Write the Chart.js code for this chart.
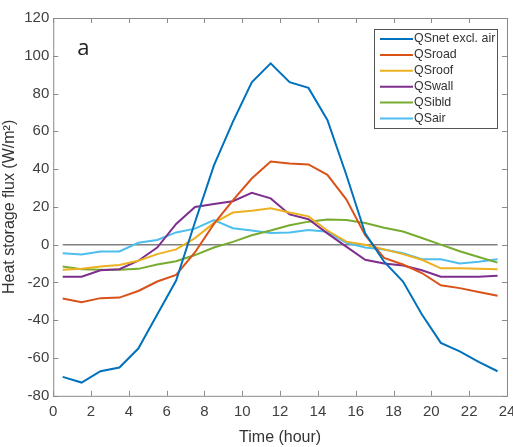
<!DOCTYPE html>
<html>
<head>
<meta charset="utf-8">
<script src="https://cdn.jsdelivr.net/npm/chart.js@4"></script>
<style>
  html, body { margin: 0; padding: 0; background: #fff; }
  #wrap { width: 513px; height: 447px; }
</style>
</head>
<body>
<div id="wrap"><canvas id="fluxChart"></canvas></div>
<script>
// Heures (milieu de chaque pas horaire)
const hours = [0.5, 1.5, 2.5, 3.5, 4.5, 5.5, 6.5, 7.5, 8.5, 9.5, 10.5, 11.5,
               12.5, 13.5, 14.5, 15.5, 16.5, 17.5, 18.5, 19.5, 20.5, 21.5, 22.5, 23.5];

const seriesNames = ['QSnet excl. air', 'QSroad', 'QSroof', 'QSwall', 'QSibld', 'QSair'];

const qsNet   = [-70, -73, -67, -65, -55, -37, -19, 12, 42, 65, 86, 96,
                 86, 83, 66, 37, 6, -9, -19.5, -37, -52, -56.5, -62, -67];
const qsRoad  = [-28.5, -30.5, -28.3, -28, -24.5, -19.5, -16, -4, 11, 23.5, 35, 44,
                 43, 42.5, 37, 24, 5, -7, -10.5, -15, -21.5, -23, -25, -27];
const qsRoof  = [-13.3, -12.8, -11.5, -10.7, -8.5, -5, -2.5, 3.5, 11.5, 17, 18, 19.3,
                 17, 15, 7.5, 1.6, 0, -2.5, -5, -8, -12.5, -12.5, -12.8, -13];
const qsWall  = [-17, -17, -13.5, -13, -8.5, -1.5, 11, 20, 21.5, 23, 27.5, 24.5,
                 16, 13.5, 6, -1, -8, -10, -11, -13.5, -17, -17, -17, -16.5];
const qsIbld  = [-11.6, -13, -13.3, -13.3, -12.8, -10.5, -8.8, -5.5, -1.5, 1.5, 5, 7.5,
                 10.3, 12.2, 13.3, 13.1, 11.5, 9, 7, 3.5, 0, -3.5, -6.5, -9.5];
const qsAir   = [-4.5, -5.2, -3.6, -3.6, 1, 2.5, 6.5, 8.5, 13, 8.7, 7.5, 6.2,
                 6.4, 7.8, 6.9, 1, -1.5, -2.5, -4.5, -7.7, -7.7, -10, -9, -7.7];
const zeroLine = hours.map(() => 0);

const xTicks = [0, 2, 4, 6, 8, 10, 12, 14, 16, 18, 20, 22, 24];
const yTicks = [-80, -60, -40, -20, 0, 20, 40, 60, 80, 100, 120];

const seriesColors = ['#0072BD', '#D95319', '#EDB120', '#7E2F8E', '#77AC30', '#4DBEEE'];
const allSeries = [qsNet, qsRoad, qsRoof, qsWall, qsIbld, qsAir];

function toPoints(values) {
    return hours.map((h, i) => ({ x: h, y: values[i] }));
}

const datasets = allSeries.map((values, i) => ({
    label: seriesNames[i],
    data: toPoints(values),
    borderColor: seriesColors[i],
    backgroundColor: seriesColors[i],
    borderWidth: 2,
    pointRadius: 0,
    fill: false,
    tension: 0
}));

datasets.push({
    label: 'zero',
    data: toPoints(zeroLine),
    borderColor: '#808080',
    borderWidth: 1.5,
    pointRadius: 0,
    fill: false,
    order: 10
});

// Cadre, graduations intérieures, lettre "a" et légende style MATLAB
const matlabFrame = {
    id: 'matlabFrame',
    afterDraw(chart) {
        const ctx = chart.ctx;
        const area = chart.chartArea;
        const xs = chart.scales.x;
        const ys = chart.scales.y;
        const tick = 5;

        ctx.save();
        ctx.strokeStyle = '#8a8a8a';
        ctx.lineWidth = 1;
        ctx.strokeRect(area.left + 0.5, area.top + 0.5, area.right - area.left, area.bottom - area.top);

        ctx.beginPath();
        xTicks.forEach(v => {
            const px = Math.round(xs.getPixelForValue(v)) + 0.5;
            ctx.moveTo(px, area.bottom);
            ctx.lineTo(px, area.bottom - tick);
            ctx.moveTo(px, area.top);
            ctx.lineTo(px, area.top + tick);
        });
        yTicks.forEach(v => {
            const py = Math.round(ys.getPixelForValue(v)) + 0.5;
            ctx.moveTo(area.left, py);
            ctx.lineTo(area.left + tick, py);
            ctx.moveTo(area.right, py);
            ctx.lineTo(area.right - tick, py);
        });
        ctx.stroke();

        // Lettre du panneau
        ctx.fillStyle = '#222';
        ctx.font = '22px "Open Sans", sans-serif';
        ctx.textBaseline = 'middle';
        ctx.textAlign = 'left';
        ctx.fillText('a', area.left + 24, area.top + 31);

        // Légende
        const boxX = 374, boxY = 29, boxW = 123, boxH = 99;
        ctx.fillStyle = '#fff';
        ctx.fillRect(boxX, boxY, boxW, boxH);
        ctx.strokeStyle = '#555';
        ctx.strokeRect(boxX + 0.5, boxY + 0.5, boxW, boxH);
        ctx.font = '12.4px "Liberation Sans", Arial, sans-serif';
        ctx.fillStyle = '#333';
        seriesNames.forEach((name, i) => {
            const y = boxY + 10 + i * 15.9;
            ctx.strokeStyle = seriesColors[i];
            ctx.lineWidth = 2;
            ctx.beginPath();
            ctx.moveTo(boxX + 6, y);
            ctx.lineTo(boxX + 39, y);
            ctx.stroke();
            ctx.fillText(name, boxX + 40, y);
        });
        ctx.restore();
    }
};

const ctx = document.getElementById('fluxChart').getContext('2d');
const chart = new Chart(ctx, {
    type: 'line',
    data: { datasets: datasets },
    options: {
        responsive: true,
        maintainAspectRatio: false,
        animation: false,
        layout: { padding: { top: 18, right: 6, left: 0, bottom: 0 } },
        plugins: {
            legend: { display: false },
            tooltip: { enabled: false }
        },
        scales: {
            x: {
                type: 'linear',
                min: 0,
                max: 24,
                afterBuildTicks: axis => { axis.ticks = xTicks.map(v => ({ value: v })); },
                afterFit: axis => { axis.paddingRight = 0; axis.paddingLeft = 0; },
                ticks: {
                    color: '#404040',
                    font: { size: 15, family: '"Liberation Sans", Arial, sans-serif' },
                    padding: 7,
                    maxRotation: 0
                },
                grid: { display: false, drawTicks: false },
                border: { display: false },
                title: {
                    display: true,
                    text: 'Time (hour)',
                    color: '#333',
                    font: { size: 16, family: '"Liberation Sans", Arial, sans-serif' },
                    padding: { top: 0, bottom: 0 }
                }
            },
            y: {
                min: -80,
                max: 120,
                afterBuildTicks: axis => { axis.ticks = yTicks.map(v => ({ value: v })); },
                ticks: {
                    color: '#404040',
                    font: { size: 15, family: '"Liberation Sans", Arial, sans-serif' },
                    padding: 4
                },
                grid: { display: false, drawTicks: false },
                border: { display: false },
                title: {
                    display: true,
                    text: 'Heat storage flux (W/m²)',
                    color: '#333',
                    font: { size: 16, family: '"Liberation Sans", Arial, sans-serif' },
                    padding: { top: 0, bottom: 1 }
                }
            }
        }
    },
    plugins: [matlabFrame]
});
</script>
</body>
</html>
